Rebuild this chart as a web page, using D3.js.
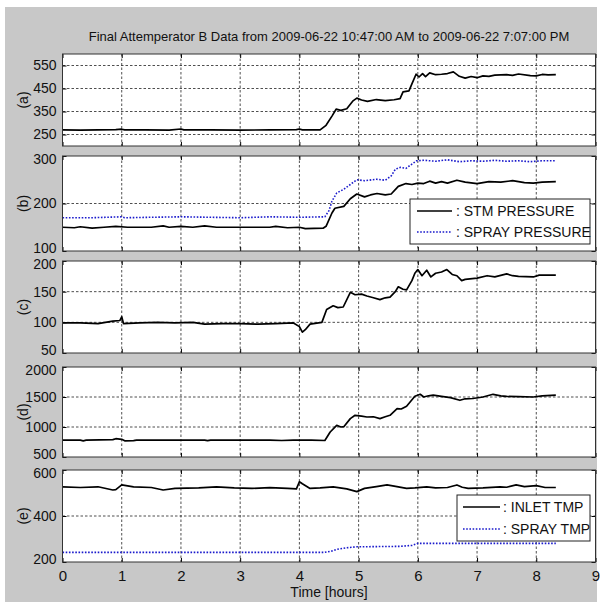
<!DOCTYPE html>
<html>
<head>
<meta charset="utf-8">
<script src="https://cdn.jsdelivr.net/npm/d3@7"></script>
<style>
  body { margin: 0; background: #fff; }
  text { font-family: "Liberation Sans", Arial, sans-serif; fill: #111; }
</style>
</head>
<body>
<div class="chart"></div>
<script>
// data, [hours, value]
const titleText = "Final Attemperator B Data from 2009-06-22 10:47:00 AM to 2009-06-22 7:07:00 PM"
const xTicks = [0,1,2,3,4,5,6,7,8,9]

const seriesA = [[0,270],[0.3,269],[0.6,270],[0.9,271],[1.0,273],[1.05,270],[1.4,270],[1.8,269],[2.0,274],[2.05,270],[2.5,270],[3.0,269],[3.5,270],[3.95,271],[4.0,274],[4.05,270],[4.35,270],[4.45,290],[4.55,330],[4.62,360],[4.7,355],[4.8,362],[4.9,395],[4.97,408],[5.05,400],[5.15,394],[5.3,402],[5.45,397],[5.6,401],[5.7,406],[5.75,435],[5.85,440],[5.9,470],[5.97,512],[6.02,500],[6.08,515],[6.13,502],[6.2,518],[6.3,510],[6.4,512],[6.5,515],[6.6,522],[6.7,503],[6.8,495],[6.9,502],[7.0,497],[7.1,505],[7.2,503],[7.3,508],[7.5,510],[7.6,507],[7.7,513],[7.9,506],[8.0,505],[8.1,511],[8.2,509],[8.33,510]]

const stmPressure = [[0,150],[0.2,149],[0.3,151],[0.5,148],[0.7,150],[0.9,152],[1.1,150],[1.5,150],[1.7,153],[1.8,150],[2.0,152],[2.2,150],[2.4,153],[2.6,150],[3.0,150],[3.5,150],[3.6,152],[3.8,149],[4.0,150],[4.1,147],[4.4,148],[4.45,152],[4.55,180],[4.6,190],[4.75,194],[4.86,210],[4.97,220],[5.1,214],[5.2,218],[5.31,221],[5.45,218],[5.55,220],[5.67,236],[5.8,242],[5.9,240],[6.0,243],[6.1,242],[6.2,247],[6.3,243],[6.4,246],[6.5,243],[6.66,249],[6.8,245],[7.0,242],[7.2,246],[7.4,245],[7.6,248],[7.8,244],[7.95,243],[8.1,245],[8.33,246]]
const sprayPressure = [[0,170],[0.5,170],[1.0,172],[1.05,170],[1.5,171],[2.0,172],[2.5,171],[3.0,170],[3.5,172],[4.0,171],[4.43,172],[4.5,185],[4.55,205],[4.63,222],[4.75,230],[4.86,240],[4.97,250],[5.1,248],[5.3,251],[5.45,249],[5.55,258],[5.62,272],[5.7,276],[5.8,274],[5.9,283],[5.98,290],[6.1,291],[6.3,289],[6.5,292],[6.7,288],[6.9,290],[7.1,289],[7.3,291],[7.5,289],[7.7,290],[7.9,288],[8.1,290],[8.33,290]]

const seriesC = [[0,99],[0.3,99],[0.6,98],[0.85,102],[0.97,103],[1.0,109],[1.03,98],[1.3,99],[1.6,100],[1.9,99],[2.2,100],[2.4,97],[2.7,98],[3.0,98],[3.3,97],[3.6,98],[3.9,99],[4.0,93],[4.05,84],[4.1,88],[4.18,97],[4.38,100],[4.46,121],[4.57,127],[4.65,124],[4.74,125],[4.86,149],[4.94,145],[5.05,146],[5.14,143],[5.25,140],[5.36,137],[5.45,140],[5.53,141],[5.62,150],[5.67,158],[5.75,154],[5.81,153],[5.9,168],[5.95,180],[6.0,186],[6.07,176],[6.15,185],[6.22,174],[6.3,180],[6.4,182],[6.49,186],[6.58,178],[6.66,176],[6.74,168],[6.8,170],[6.88,171],[7.0,172],[7.17,176],[7.3,174],[7.5,179],[7.6,176],[7.7,175],[7.95,174],[8.05,177],[8.33,177]]

const seriesD = [[0,780],[0.3,780],[0.35,770],[0.4,780],[0.85,790],[0.9,805],[1.0,795],[1.05,770],[1.2,772],[1.25,780],[1.8,780],[2.4,780],[2.45,772],[2.5,780],[3.0,780],[3.5,780],[3.7,775],[3.9,780],[4.2,780],[4.43,775],[4.52,917],[4.63,1028],[4.7,1000],[4.75,1005],[4.86,1140],[4.94,1195],[5.05,1180],[5.14,1167],[5.25,1170],[5.36,1140],[5.45,1170],[5.53,1195],[5.65,1307],[5.72,1300],[5.81,1345],[5.95,1512],[6.04,1545],[6.1,1500],[6.18,1520],[6.26,1530],[6.4,1510],[6.55,1490],[6.71,1445],[6.8,1470],[6.93,1475],[7.1,1500],[7.27,1545],[7.4,1520],[7.5,1510],[7.7,1505],[7.95,1500],[8.1,1520],[8.33,1530]]

const inletTmp = [[0,527],[0.3,524],[0.6,527],[0.85,513],[0.9,515],[1.0,535],[1.2,527],[1.5,524],[1.7,513],[1.9,520],[2.3,522],[2.6,527],[2.9,522],[3.2,520],[3.5,523],[3.8,520],[3.95,518],[4.0,549],[4.05,540],[4.18,520],[4.35,522],[4.57,527],[4.8,518],[4.97,506],[5.1,520],[5.3,528],[5.48,535],[5.6,530],[5.81,520],[5.95,522],[6.15,527],[6.3,522],[6.5,524],[6.66,535],[6.75,525],[6.85,520],[7.1,522],[7.39,527],[7.5,525],[7.66,535],[7.8,528],[8.0,532],[8.15,524],[8.33,524]]
const sprayTmp = [[0,242],[1,242],[2,242],[3,242],[4,242],[4.43,242],[4.55,248],[4.63,255],[4.8,262],[4.97,266],[5.3,267],[5.7,268],[5.9,272],[6.0,281],[6.5,281],[7,281],[7.5,281],[8,281],[8.33,281]]

const panelLabels = ["(a)","(b)","(c)","(d)","(e)"]
const yDomains = [[200,600],[100,300],[50,200],[500,2000],[200,600]]
const yTicks = [[250,350,450,550],[100,200,300],[50,100,150,200],[500,1000,1500,2000],[200,400,600]]
const legendB = [": STM PRESSURE", ": SPRAY PRESSURE"]
const legendE = [": INLET TMP", ": SPRAY TMP"]

// figure size
const w = 600
const h = 607
const left = 62.5
const right = 595.5
const tops = [54, 156, 261, 367, 470]
const bottoms = [146, 251, 353, 457, 562]

const solid = { color: "#000", dash: null, width: 1.7 }
const dotted = { color: "#1a1acc", dash: "1.6,1.6", width: 1.6 }

const panelSeries = [
  [[seriesA, solid]],
  [[sprayPressure, dotted], [stmPressure, solid]],
  [[seriesC, solid]],
  [[seriesD, solid]],
  [[sprayTmp, dotted], [inletTmp, solid]]
]

const svg = d3.select(".chart")
  .append("svg")
  .attr("width", w)
  .attr("height", h)

// matlab grey figure
svg.append("rect")
  .attr("x", 5).attr("y", 7)
  .attr("width", 592).attr("height", 595)
  .attr("fill", "#c8c8c8")

const x = d3.scaleLinear().domain([0, 9]).range([left, right])

svg.append("text")
  .attr("x", (left + right) / 2)
  .attr("y", 41)
  .attr("text-anchor", "middle")
  .style("font-size", "13px")
  .text(titleText)

panelLabels.forEach((lab, i) => {
  const y = d3.scaleLinear().domain(yDomains[i]).range([bottoms[i], tops[i]])
  const g = svg.append("g")

  g.append("rect")
    .attr("x", left).attr("y", tops[i])
    .attr("width", right - left).attr("height", bottoms[i] - tops[i])
    .attr("fill", "#fff")

  // dotted grid
  g.append("g")
    .selectAll("line")
    .data(xTicks.slice(1, -1))
    .enter()
    .append("line")
    .attr("x1", d => x(d)).attr("x2", d => x(d))
    .attr("y1", tops[i]).attr("y2", bottoms[i])
    .attr("stroke", "#222").attr("stroke-width", 0.8)
    .attr("stroke-dasharray", "2.5,2")

  g.append("g")
    .selectAll("line")
    .data(yTicks[i].filter(t => t > yDomains[i][0] && t < yDomains[i][1]))
    .enter()
    .append("line")
    .attr("x1", left).attr("x2", right)
    .attr("y1", d => y(d)).attr("y2", d => y(d))
    .attr("stroke", "#222").attr("stroke-width", 0.8)
    .attr("stroke-dasharray", "2.5,2")

  // lines
  const line = d3.line().x(d => x(d[0])).y(d => y(d[1]))
  panelSeries[i].forEach(([data, st]) => {
    g.append("path")
      .datum(data)
      .attr("d", line)
      .attr("fill", "none")
      .attr("stroke", st.color)
      .attr("stroke-width", st.width)
      .attr("stroke-dasharray", st.dash)
      .attr("stroke-linejoin", "round")
  })

  // axes with inward ticks
  const yAxis = d3.axisLeft(y).tickValues(yTicks[i]).tickFormat(d3.format("d"))
    .tickSizeInner(-4).tickSizeOuter(0).tickPadding(6)
  const ya = g.append("g").attr("transform", `translate(${left},0)`).call(yAxis)
  ya.select(".domain").remove()
  ya.selectAll("text")
    .style("font-size", "14px").attr("fill", "#111")
    // nudge the end labels a little so stacked panels don't sit on top of each other
    .attr("dy", d => d === yDomains[i][0] ? "0.1em" : d === yDomains[i][1] ? "0.5em" : "0.32em")
  g.append("g").attr("transform", `translate(${right},0)`)
    .call(d3.axisRight(y).tickValues(yTicks[i]).tickSizeInner(-4).tickSizeOuter(0).tickFormat(""))
    .select(".domain").remove()

  const xb = g.append("g").attr("transform", `translate(0,${bottoms[i]})`)
    .call(d3.axisBottom(x).tickValues(xTicks).tickSizeInner(-4).tickSizeOuter(0).tickPadding(8))
  xb.select(".domain").remove()
  if (i < 4) xb.selectAll("text").remove()
  else xb.selectAll("text").style("font-size", "15px").attr("fill", "#111")
  g.append("g").attr("transform", `translate(0,${tops[i]})`)
    .call(d3.axisTop(x).tickValues(xTicks).tickSizeInner(-4).tickSizeOuter(0).tickFormat(""))
    .select(".domain").remove()

  g.append("rect")
    .attr("x", left).attr("y", tops[i])
    .attr("width", right - left).attr("height", bottoms[i] - tops[i])
    .attr("fill", "none").attr("stroke", "#333").attr("stroke-width", 1)

  g.append("text")
    .attr("transform", `translate(28,${(tops[i] + bottoms[i]) / 2}) rotate(-90)`)
    .attr("text-anchor", "middle")
    .style("font-size", "14px")
    .text(lab)
})

// legends
const drawLegend = (labels, styles, bx, by, bw, bh, sx0, sx1, tx, rows) => {
  const lg = svg.append("g")
  lg.append("rect")
    .attr("x", bx).attr("y", by).attr("width", bw).attr("height", bh)
    .attr("fill", "#fff").attr("stroke", "#222").attr("stroke-width", 1)
  labels.forEach((lab, k) => {
    lg.append("line")
      .attr("x1", sx0).attr("x2", sx1)
      .attr("y1", rows[k]).attr("y2", rows[k])
      .attr("stroke", styles[k].color)
      .attr("stroke-width", styles[k].width)
      .attr("stroke-dasharray", styles[k].dash)
    lg.append("text")
      .attr("x", tx).attr("y", rows[k] + 5)
      .style("font-size", "14px")
      .text(lab)
  })
}
drawLegend(legendB, [solid, dotted], 410, 199, 180, 45, 417, 452, 456, [211, 232])
drawLegend(legendE, [solid, dotted], 457, 495, 133, 46, 463, 500, 503, [507, 529])

svg.append("text")
  .attr("x", (left + right) / 2)
  .attr("y", 597)
  .attr("text-anchor", "middle")
  .style("font-size", "14px")
  .text("Time [hours]")
</script>
</body>
</html>
